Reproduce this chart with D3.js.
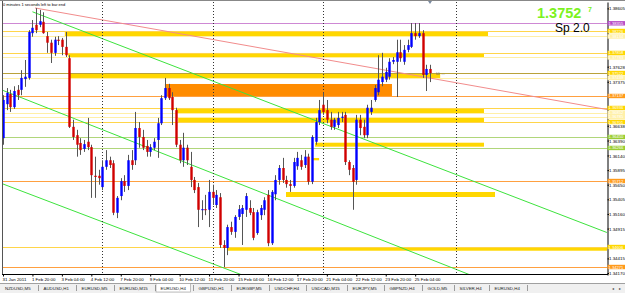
<!DOCTYPE html>
<html lang="en"><head><meta charset="utf-8">
<script src="https://cdn.jsdelivr.net/npm/d3@7"></script>
<style>
body { margin: 0; background: #fff; }
svg { display: block; font-family: "Liberation Sans", Arial, sans-serif; }
</style>
</head>
<body>
<script>
// EURUSD H4, 31 Jan - 25 Feb 2011
var opens = [1.3643,1.3700,1.3717,1.3695,1.3724,1.3724,1.3742,1.3744,1.3819,1.3833,
  1.3833,1.3838,1.3814,1.3803,1.3786,1.3808,1.3808,1.3796,1.3777,1.3662,
  1.3648,1.3635,1.3625,1.3637,1.3628,1.3580,1.3580,1.3561,1.3595,1.3606,
  1.3601,1.3518,1.3546,1.3571,1.3563,1.3606,1.3606,1.3660,1.3645,1.3630,
  1.3620,1.3627,1.3640,1.3668,1.3710,1.3727,1.3712,1.3690,1.3632,1.3606,
  1.3627,1.3595,1.3573,1.3561,1.3523,1.3524,1.3523,1.3553,1.3531,1.3544,
  1.3464,1.3459,1.3494,1.3486,1.3511,1.3516,1.3523,1.3526,1.3519,1.3484,
  1.3514,1.3523,1.3548,1.3467,1.3549,1.3573,1.3593,1.3573,1.3566,1.3563,
  1.3596,1.3606,1.3598,1.3612,1.3570,1.3637,1.3670,1.3699,1.3690,1.3674,
  1.3662,1.3665,1.3677,1.3682,1.3603,1.3593,1.3573,1.3674,1.3662,1.3648,
  1.3687,1.3707,1.3720,1.3737,1.3741,1.3746,1.3771,1.3771,1.3787,1.3771,
  1.3791,1.3796,1.3819,1.3814,1.3819,1.3749,1.3759];
var highs = [1.3715,1.3727,1.3724,1.3730,1.3732,1.3757,1.3774,1.3824,1.3841,1.3861,
  1.3858,1.3854,1.3821,1.3808,1.3813,1.3814,1.3811,1.3821,1.3782,1.3674,
  1.3657,1.3643,1.3640,1.3677,1.3632,1.3612,1.3590,1.3606,1.3623,1.3612,
  1.3606,1.3546,1.3576,1.3581,1.3615,1.3623,1.3687,1.3670,1.3657,1.3640,
  1.3633,1.3643,1.3677,1.3715,1.3744,1.3734,1.3720,1.3694,1.3640,1.3652,
  1.3632,1.3620,1.3578,1.3568,1.3539,1.3548,1.3573,1.3565,1.3556,1.3551,
  1.3472,1.3498,1.3503,1.3514,1.3531,1.3531,1.3551,1.3539,1.3526,1.3523,
  1.3531,1.3544,1.3556,1.3556,1.3581,1.3598,1.3610,1.3580,1.3573,1.3610,
  1.3620,1.3615,1.3623,1.3617,1.3648,1.3677,1.3707,1.3720,1.3707,1.3687,
  1.3677,1.3687,1.3687,1.3687,1.3606,1.3598,1.3682,1.3682,1.3674,1.3699,
  1.3707,1.3732,1.3782,1.3786,1.3761,1.3777,1.3779,1.3808,1.3808,1.3799,
  1.3808,1.3836,1.3836,1.3836,1.3824,1.3766,1.3766];
var lows = [1.3632,1.3690,1.3687,1.3692,1.3707,1.3715,1.3729,1.3741,1.3813,1.3819,
  1.3829,1.3818,1.3786,1.3769,1.3781,1.3799,1.3782,1.3779,1.3660,1.3640,
  1.3612,1.3615,1.3620,1.3623,1.3543,1.3543,1.3565,1.3556,1.3590,1.3593,
  1.3514,1.3509,1.3539,1.3553,1.3556,1.3590,1.3598,1.3627,1.3623,1.3612,
  1.3612,1.3623,1.3610,1.3665,1.3707,1.3707,1.3665,1.3628,1.3601,1.3595,
  1.3598,1.3561,1.3551,1.3494,1.3506,1.3514,1.3494,1.3531,1.3526,1.3459,
  1.3427,1.3447,1.3481,1.3476,1.3506,1.3464,1.3511,1.3514,1.3472,1.3481,
  1.3506,1.3514,1.3462,1.3464,1.3539,1.3565,1.3568,1.3560,1.3553,1.3560,
  1.3590,1.3590,1.3593,1.3565,1.3566,1.3632,1.3665,1.3682,1.3668,1.3657,
  1.3657,1.3660,1.3670,1.3598,1.3581,1.3523,1.3565,1.3648,1.3643,1.3643,
  1.3682,1.3704,1.3715,1.3730,1.3737,1.3741,1.3767,1.3712,1.3771,1.3766,
  1.3787,1.3794,1.3808,1.3811,1.3744,1.3722,1.3737];
var closes = [1.3707,1.3719,1.3695,1.3722,1.3715,1.3744,1.3746,1.3821,1.3828,1.3824,
  1.3839,1.3819,1.3803,1.3786,1.3808,1.3806,1.3796,1.3782,1.3662,1.3645,
  1.3632,1.3623,1.3633,1.3628,1.3581,1.3578,1.3576,1.3595,1.3606,1.3598,
  1.3518,1.3543,1.3571,1.3563,1.3606,1.3598,1.3660,1.3645,1.3627,1.3620,
  1.3628,1.3637,1.3668,1.3710,1.3727,1.3710,1.3690,1.3632,1.3606,1.3627,
  1.3606,1.3573,1.3556,1.3523,1.3524,1.3523,1.3553,1.3543,1.3548,1.3464,
  1.3459,1.3494,1.3486,1.3511,1.3524,1.3526,1.3546,1.3518,1.3476,1.3519,
  1.3526,1.3539,1.3467,1.3553,1.3573,1.3593,1.3573,1.3566,1.3563,1.3603,
  1.3610,1.3595,1.3612,1.3570,1.3645,1.3670,1.3690,1.3687,1.3674,1.3662,
  1.3674,1.3677,1.3679,1.3603,1.3590,1.3570,1.3674,1.3660,1.3648,1.3694,
  1.3694,1.3727,1.3741,1.3746,1.3754,1.3771,1.3774,1.3787,1.3777,1.3791,
  1.3799,1.3819,1.3814,1.3819,1.3749,1.3759,1.3752];

var priceTicks = [1.38605,1.38360,1.38115,1.37870,1.37628,1.37375,1.37135,1.36885,1.36638,
  1.36390,1.36140,1.35895,1.35650,1.35405,1.35160,1.34915,1.34660,1.34415,1.34170];

var timeIdx = [0,8,16,24,32,40,48,56,64,72,80,88,96,104,112];
var timeLabels = ["31 Jan 2011","1 Feb 20:00","3 Feb 04:00","4 Feb 12:00","7 Feb 20:00",
  "9 Feb 04:00","10 Feb 12:00","11 Feb 20:00","15 Feb 04:00","16 Feb 12:00","17 Feb 20:00",
  "21 Feb 04:00","22 Feb 12:00","23 Feb 20:00","25 Feb 04:00"];

// horizontal levels (price, kind)
var levelPrice = [1.38355,1.38226,1.38134,1.37858,1.37783,1.37522,1.37439,1.37137,
  1.36936,1.36852,1.36785,1.36701,1.36450,1.36266,1.35712,1.34606,1.34271];
var levelKind = ["purple","gold","pale","gold","pale","olive","pale","orange",
  "gold","pale","pale","gold","green","green","orange","gold","orange"];

// rectangles (zones): price top/bottom, bar index from/to
var bandTop    = [1.38226,1.37858,1.37522,1.37338,1.36936,1.36785,1.36354,1.35528,1.34594,1.36098];
var bandBottom = [1.38134,1.37783,1.37439,1.37137,1.36852,1.36701,1.36287,1.35444,1.34544,1.36059];
var bandFrom   = [16.8,17.7,18.2,44.0,47.3,47.6,84.8,76.9,60.9,84.2];
var bandTo     = [131.8,130.7,118.8,105.7,130.7,130.7,130.7,133.7,175,85.9];
var bandKind   = ["gold","gold","gold","orange","gold","gold","gold","gold","gold","gold"];

// trendlines: two anchor points (bar index, price)
var trendKind = ["red","green","green","green"];
var trendI1 = [8.7, 8, 0, 0];
var trendP1 = [1.38612, 1.38548, 1.37230, 1.35662];
var trendI2 = [164.9, 164.1, 127, 65];
var trendP2 = [1.36902, 1.34849, 1.34137, 1.34137];

var separators = [27, 57, 87, 123];

var tabNames = ["NZDUSD,M5","AUDUSD,H1","EURUSD,M5","EURUSD,M15","EURUSD,H4","GBPUSD,H1",
  "EURGBP,M5","USDCHF,H4","USDCAD,M15","EURJPY,M5","GBPNZD,H4","GOLD,M5","SILVER,H4","EURUSD,H4"];
var activeTab = 4;

var W = 625, H = 293;
var plotL = 2, plotR = 607, plotT = 2, plotB = 275;

var lineColor = {purple:"#CE88D4", gold:"#FFD54A", pale:"#FFEFA6", olive:"#B9A23A",
  orange:"#FFA040", green:"#B0D67A", red:"#F28C8C"};
var tagColor = {purple:"#B64CC6", gold:"#FFD700", pale:"#FFF0A8", olive:"#FFD700",
  orange:"#FF9A1A", green:"#9ACD32"};
var fillColor = {gold:"#FFD700", orange:"#FF8C00"};

var svg = d3.select("body").append("svg").attr("width", W).attr("height", H);
svg.append("rect").attr("width", W).attr("height", H).attr("fill", "#fff");

var x = d3.scaleLinear().domain([0, 116]).range([3, 3 + 116 * 3.68]);
var y = d3.scaleLinear().domain([1.34137, 1.38712]).range([plotB, plotT]);
var py = function(v) { return Math.round(y(v)) + 0.5; };

svg.append("clipPath").attr("id", "plot").append("rect")
  .attr("x", plotL).attr("y", plotT).attr("width", plotR - plotL).attr("height", plotB - plotT);
var g = svg.append("g").attr("clip-path", "url(#plot)");

// zones
g.selectAll("rect.band").data(d3.range(bandTop.length)).join("rect")
  .attr("x", i => x(bandFrom[i]))
  .attr("width", i => x(bandTo[i]) - x(bandFrom[i]))
  .attr("y", i => y(bandTop[i]))
  .attr("height", i => y(bandBottom[i]) - y(bandTop[i]))
  .attr("fill", i => fillColor[bandKind[i]]);

// horizontal lines
g.selectAll("line.level").data(d3.range(levelPrice.length)).join("line")
  .attr("x1", plotL).attr("x2", plotR)
  .attr("y1", i => py(levelPrice[i])).attr("y2", i => py(levelPrice[i]))
  .attr("stroke", i => lineColor[levelKind[i]]).attr("stroke-width", 1);

// trendlines
g.selectAll("line.trend").data(d3.range(trendKind.length)).join("line")
  .attr("x1", i => x(trendI1[i])).attr("y1", i => y(trendP1[i]))
  .attr("x2", i => x(trendI2[i])).attr("y2", i => y(trendP2[i]))
  .attr("stroke", i => trendKind[i] == "red" ? lineColor.red : "#3DE33D")
  .attr("stroke-width", 1);

// period separators
g.selectAll("line.sep").data(separators).join("line")
  .attr("x1", d => Math.round(x(d)) + 0.5).attr("x2", d => Math.round(x(d)) + 0.5)
  .attr("y1", plotT).attr("y2", plotB)
  .attr("stroke", "#333").attr("stroke-dasharray", "1,2");

// candles
var bars = opens.map((o, i) => ({i: i, o: o, h: highs[i], l: lows[i], c: closes[i]}));
var cx = d => Math.round(x(d.i)) + 0.5;
g.selectAll("line.wick").data(bars).join("line")
  .attr("x1", cx).attr("x2", cx)
  .attr("y1", d => y(d.h)).attr("y2", d => y(d.l))
  .attr("stroke", "#555").attr("stroke-width", 1);
g.selectAll("rect.body").data(bars).join("rect")
  .attr("x", d => cx(d) - 1.2).attr("width", 2.4)
  .attr("y", d => y(Math.max(d.o, d.c)))
  .attr("height", d => Math.max(1, Math.abs(y(d.o) - y(d.c))))
  .attr("fill", d => d.c > d.o ? "#0000FF" : (d.c < d.o ? "#D00000" : "#555"));

// current price marker
svg.append("text").attr("x", 436).attr("y", 74.5).attr("font-size", 4.5)
  .attr("fill", "#666").text("ω ↔");
svg.append("path").attr("d", "M428,1 L432,1 L430,4 Z").attr("fill", "#7a8aa0");

// frame
svg.append("line").attr("x1", 0).attr("x2", W).attr("y1", 0.5).attr("y2", 0.5).attr("stroke", "#888");
svg.append("line").attr("x1", plotL + 0.5).attr("x2", plotL + 0.5).attr("y1", 1).attr("y2", plotB)
  .attr("stroke", "#555");
svg.append("line").attr("x1", plotL).attr("x2", plotR + 1).attr("y1", plotB - 0.5).attr("y2", plotB - 0.5)
  .attr("stroke", "#000");

// price axis: like the terminal, a scale label hidden under a level tag is not drawn
var freeTicks = priceTicks.filter(t => !levelPrice.some(p => Math.abs(y(p) - y(t)) < 3.5));
var ya = svg.append("g").attr("transform", "translate(" + (plotR + 0.5) + ",0)")
  .call(d3.axisRight(y).tickValues(freeTicks).tickFormat(d3.format(".5f"))
    .tickSize(1.5).tickPadding(0).tickSizeOuter(0));
ya.attr("font-size", 4.4).attr("font-family", null);
ya.select(".domain").attr("stroke", "#000");
ya.selectAll("text").attr("dy", "0.35em");

// level tags on the price axis
var tags = svg.append("g");
tags.selectAll("rect").data(d3.range(levelPrice.length)).join("rect")
  .attr("x", plotR + 0.5).attr("width", 18)
  .attr("y", i => y(levelPrice[i]) - 2.2).attr("height", 4.4)
  .attr("fill", i => tagColor[levelKind[i]]);
tags.selectAll("text").data(d3.range(levelPrice.length)).join("text")
  .attr("x", plotR + 1.5).attr("y", i => y(levelPrice[i]) + 1.5)
  .attr("font-size", 4.1).attr("fill", "#fff")
  .text(i => levelPrice[i].toFixed(5));

// time axis
var xa = svg.append("g").attr("transform", "translate(0," + (plotB - 0.5) + ")")
  .call(d3.axisBottom(x).tickValues(timeIdx).tickFormat((d, i) => timeLabels[i])
    .tickSize(2).tickSizeOuter(0));
xa.select(".domain").remove();
xa.attr("font-size", 4.4).attr("font-family", null);
xa.selectAll("text").attr("text-anchor", "start").attr("x", -1).attr("y", 3.5);

// header texts
svg.append("text").attr("x", 3).attr("y", 6).attr("font-size", 4).attr("fill", "#000")
  .text("0 minutes 1 seconds left to bar end");
svg.append("text").attr("x", 537).attr("y", 17.5).attr("font-size", 14.5).attr("font-weight", "bold")
  .attr("fill", "#7CF21E").text("1.3752");
svg.append("text").attr("x", 588).attr("y", 12).attr("font-size", 7).attr("font-weight", "bold")
  .attr("fill", "#7CF21E").text("7");
svg.append("text").attr("x", 555).attr("y", 32).attr("font-size", 12).attr("fill", "#000")
  .text("Sp 2.0");

// tab bar
var tb = svg.append("g");
tb.append("rect").attr("x", 0).attr("y", 283).attr("width", W).attr("height", 10).attr("fill", "#F0F0F0");
tb.append("line").attr("x1", 0).attr("x2", W).attr("y1", 283.5).attr("y2", 283.5).attr("stroke", "#A0A0A0");
var tx = 5;
tabNames.forEach(function(name, i) {
  var t = tb.append("text").attr("x", tx).attr("y", 289.5).attr("font-size", 4.4)
    .attr("fill", "#222").text(name);
  var w = t.node().getComputedTextLength();
  if (i == activeTab) {
    tb.insert("rect", "text").attr("x", tx - 4.5).attr("y", 283.5).attr("width", w + 9)
      .attr("height", 8.5).attr("fill", "#fff").attr("stroke", "#999").attr("stroke-width", 0.6);
  }
  var sx = Math.round(tx + w + 7) + 0.5;
  tb.append("line").attr("x1", sx).attr("x2", sx).attr("y1", 285).attr("y2", 291)
    .attr("stroke", "#777").attr("stroke-width", 0.7);
  tx = sx + 5;
});
tb.append("text").attr("x", 612).attr("y", 289.5).attr("font-size", 4).attr("fill", "#444").text("◂");
tb.append("text").attr("x", 619).attr("y", 289.5).attr("font-size", 4).attr("fill", "#444").text("▸");
</script>
</body></html>
